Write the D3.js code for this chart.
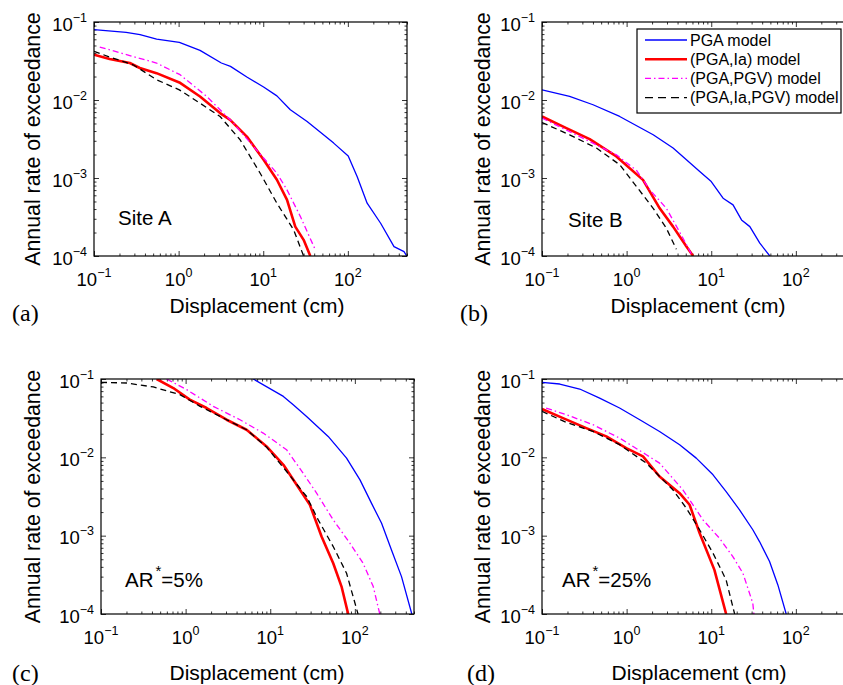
<!DOCTYPE html>
<meta charset="utf-8">
<script src="https://d3js.org/d3.v7.min.js"></script>
<style>
  body { margin: 0; background: #fff; }
  text { font-family: "Liberation Sans", Arial, Helvetica, sans-serif; fill: #000; }
  .serif { font-family: "Liberation Serif", "Times New Roman", serif; }
</style>
<svg id="fig" width="843" height="685"></svg>
<script>

// displacement (cm) vs annual rate of exceedance
const siteA_PGA = [[0.1,0.0797],[0.24,0.0736],[0.35,0.0687],[0.55,0.0605],[1.02,0.0548],[1.79,0.0433],[3.2,0.0298],[4.1,0.027],[6.4,0.0197],[10.1,0.0147],[14.5,0.0113],[20.9,0.0075],[33,0.0053],[47,0.0039],[68,0.0028],[101,0.00192],[129,0.00104],[169,0.000475],[244,0.000263],[351,0.000132],[461,0.000114],[497,0.0001]];
const siteA_Ia = [[0.1,0.0381],[0.153,0.0335],[0.265,0.0298],[0.348,0.0257],[0.548,0.0221],[1.02,0.0168],[1.79,0.0111],[3.09,0.0068],[4.06,0.00557],[6.4,0.0034],[10.1,0.00171],[14.5,0.00095],[19.1,0.000525],[23.9,0.000238],[30,0.000161],[36,0.0001]];
const siteA_PGV = [[0.117,0.0478],[0.242,0.0381],[0.548,0.0298],[1.04,0.0211],[2.15,0.0111],[4.45,0.00505],[7.67,0.00254],[14.5,0.00115],[19.1,0.000705],[27.5,0.00032],[41.4,0.000119]];
const siteA_IaPGV = [[0.1,0.042],[0.153,0.0356],[0.29,0.0283],[0.548,0.0182],[1.02,0.0135],[1.79,0.0091],[3.09,0.00615],[5.33,0.00309],[9.2,0.00115],[14.5,0.000475],[22.9,0.000216],[30,0.0001]];

const siteB_PGA = [[0.1,0.0135],[0.212,0.0111],[0.401,0.00869],[0.828,0.00615],[2.06,0.00358],[3.54,0.00242],[5.09,0.00171],[7.31,0.00121],[10,0.000901],[13.8,0.000551],[18.1,0.000452],[22.8,0.00029],[28.6,0.000238],[37.5,0.000146],[49.2,0.0001]];
const siteB_Ia = [[0.1,0.00615],[0.194,0.00436],[0.366,0.00315],[0.757,0.00189],[1.56,0.000946],[2.46,0.000409],[3.54,0.000238],[5.09,0.000132],[6.11,0.0001]];
const siteB_PGV = [[0.1,0.00586],[0.366,0.00294],[0.757,0.00198],[1.31,0.00125],[1.88,0.000705],[2.95,0.000409],[4.64,0.000169],[5.83,0.000106]];
const siteB_IaPGV = [[0.1,0.00515],[0.212,0.00358],[0.44,0.00242],[0.828,0.00148],[1.31,0.000776],[2.06,0.000409],[2.95,0.000227],[3.87,0.000122]];

const ar5_PGA = [[6.3,0.1],[14.3,0.06],[18.7,0.047],[26.9,0.0333],[48.4,0.0185],[79.8,0.00977],[115,0.00516],[157,0.0026],[207,0.00144],[271,0.000658],[356,0.0003],[471,0.0001]];
const ar5_Ia = [[0.454,0.1],[0.715,0.0767],[1.12,0.0545],[1.77,0.0426],[3.05,0.0302],[5.25,0.0225],[9.05,0.0138],[14.3,0.00803],[20.5,0.00446],[29.4,0.00248],[40.4,0.000975],[55.5,0.000445],[69.6,0.000224],[83.4,0.0001]];
const ar5_PGV = [[0.597,0.1],[1.03,0.0731],[2.12,0.0448],[4.39,0.0302],[8.26,0.0204],[15.6,0.0125],[24.5,0.00628],[35.3,0.00349],[55.5,0.00159],[87.3,0.000801],[125,0.000445],[165,0.000224],[197,0.0001]];
const ar5_IaPGV = [[0.1,0.0906],[0.201,0.0889],[0.415,0.0791],[0.857,0.0631],[1.48,0.0448],[3.05,0.0302],[5.25,0.0225],[9.05,0.0135],[15.6,0.0066],[26.9,0.00316],[36.9,0.00159],[55.5,0.000726],[79.8,0.000331],[109,0.0001]];

const ar25_PGA = [[0.1,0.0906],[0.162,0.0863],[0.279,0.0745],[0.48,0.0571],[0.826,0.0426],[1.43,0.0302],[2.45,0.0214],[4.23,0.0145],[6.65,0.00977],[10.5,0.00598],[15,0.00366],[21.6,0.00214],[31,0.00119],[37.2,0.000841],[48.9,0.000467],[61.3,0.000235],[76.9,0.0001]];
const ar25_Ia = [[0.1,0.0414],[0.177,0.0317],[0.334,0.0236],[0.575,0.0185],[0.991,0.0131],[1.56,0.0103],[2.45,0.0057],[4.23,0.00349],[5.55,0.00248],[7.28,0.00108],[10.9,0.000366],[15,0.0001]];
const ar25_PGV = [[0.112,0.0426],[0.194,0.035],[0.4,0.0261],[0.826,0.0176],[1.71,0.0108],[2.45,0.00843],[4.62,0.00385],[7.98,0.00159],[12.5,0.000929],[18,0.000541],[23.7,0.000331],[31,0.000137],[31.9,0.0001]];
const ar25_IaPGV = [[0.1,0.0386],[0.194,0.0279],[0.4,0.0214],[0.826,0.0145],[1.71,0.00843],[3.52,0.00385],[5.07,0.00225],[7.28,0.00119],[10.5,0.000597],[15,0.000272],[18.9,0.0001]];

const seriesNames = ["PGA model", "(PGA,Ia) model", "(PGA,PGV) model", "(PGA,Ia,PGV) model"];
const xMajor = [0.1, 1, 10, 100];
const yMajor = [1e-1, 1e-2, 1e-3, 1e-4];
const xDomain = [0.1, 500];
const yDomain = [1e-4, 1e-1];

// line looks, same order as seriesNames
const looks = [
  {color: "#0000ff", width: 1.3, dash: null},
  {color: "#ff0000", width: 2.6, dash: null},
  {color: "#ff00ff", width: 1.3, dash: "6,3,1.5,3"},
  {color: "#000000", width: 1.3, dash: "6,4"}
];

const svg = d3.select("#fig");
const W = 313;

const panels = [
  {left: 94, top: 22, h: 234, series: [siteA_PGA, siteA_Ia, siteA_PGV, siteA_IaPGV],
   note: "Site A", noteX: 118, noteY: 225, tag: "(a)", tagX: 12, tagY: 321, ylabX: 33, xlabX: 257, xlabY: 313, legend: false},
  {left: 542, top: 22, h: 234, series: [siteB_PGA, siteB_Ia, siteB_PGV, siteB_IaPGV],
   note: "Site B", noteX: 568, noteY: 227, tag: "(b)", tagX: 460, tagY: 321, ylabX: 483, xlabX: 698, xlabY: 313, legend: true},
  {left: 101, top: 379, h: 235, series: [ar5_PGA, ar5_Ia, ar5_PGV, ar5_IaPGV],
   note: "5%", noteX: 125, noteY: 587, tag: "(c)", tagX: 12, tagY: 681, ylabX: 33, xlabX: 257, xlabY: 680, legend: false},
  {left: 542, top: 379, h: 235, series: [ar25_PGA, ar25_Ia, ar25_PGV, ar25_IaPGV],
   note: "25%", noteX: 562, noteY: 587, tag: "(d)", tagX: 467, tagY: 681, ylabX: 483, xlabX: 699, xlabY: 680, legend: false}
];

function minorTicks(lo, hi) {
  const out = [];
  for (let d = lo; d < hi; d *= 10)
    for (let k = 2; k <= 9; k++) if (d * k <= hi) out.push(d * k);
  return out;
}

panels.forEach(function(p, i) {
  const x = d3.scaleLog().domain(xDomain).range([0, W]);
  const y = d3.scaleLog().domain(yDomain).range([p.h, 0]);
  const g = svg.append("g").attr("transform", `translate(${p.left},${p.top})`);

  g.append("clipPath").attr("id", "clip" + i)
    .append("rect").attr("width", W).attr("height", p.h);

  // inward ticks on all four sides
  const tick = function(axis, vals, size, tr) {
    const a = g.append("g").attr("transform", tr)
      .call(axis.tickValues(vals).tickSizeInner(size).tickSizeOuter(0).tickFormat(""));
    a.select(".domain").remove();
    a.selectAll("line").attr("stroke", "#000").attr("stroke-width", 0.8);
  };
  const xm = minorTicks(0.1, 500), ym = minorTicks(1e-4, 1e-1);
  tick(d3.axisBottom(x), xMajor, -5, `translate(0,${p.h})`);
  tick(d3.axisBottom(x), xm, -2.5, `translate(0,${p.h})`);
  tick(d3.axisTop(x), xMajor, -5, "translate(0,0)");
  tick(d3.axisTop(x), xm, -2.5, "translate(0,0)");
  tick(d3.axisLeft(y), yMajor, -5, "translate(0,0)");
  tick(d3.axisLeft(y), ym, -2.5, "translate(0,0)");
  tick(d3.axisRight(y), yMajor, -5, `translate(${W},0)`);
  tick(d3.axisRight(y), ym, -2.5, `translate(${W},0)`);

  // curves
  const line = d3.line().x(d => x(d[0])).y(d => y(d[1]));
  const curves = g.append("g").attr("clip-path", `url(#clip${i})`);
  p.series.forEach(function(s, k) {
    curves.append("path").datum(s)
      .attr("d", line)
      .attr("fill", "none")
      .attr("stroke", looks[k].color)
      .attr("stroke-width", looks[k].width)
      .attr("stroke-dasharray", looks[k].dash)
      .attr("stroke-linejoin", "round");
  });

  g.append("rect").attr("width", W).attr("height", p.h)
    .attr("fill", "none").attr("stroke", "#000").attr("stroke-width", 1.2);

  // tick labels 10^n
  const yl = g.append("g").selectAll("text").data(yMajor).join("text")
    .attr("x", -7).attr("y", d => y(d) + 8.5)
    .attr("text-anchor", "end").style("font-size", "18.5px");
  yl.append("tspan").text("10");
  yl.append("tspan").attr("dy", -9).style("font-size", "12.5px")
    .text(d => d3.format("d")(Math.log10(d)).replace("-", "\u2212"));

  const xl = g.append("g").selectAll("text").data(xMajor).join("text")
    .attr("x", d => x(d)).attr("y", p.h + 30)
    .attr("text-anchor", "middle").style("font-size", "18.5px");
  xl.append("tspan").text("10");
  xl.append("tspan").attr("dy", -9).style("font-size", "12.5px")
    .text(d => d3.format("d")(Math.round(Math.log10(d))).replace("-", "\u2212"));

  // axis titles
  svg.append("text")
    .attr("transform", `translate(${p.ylabX + 7},${p.top + p.h / 2}) rotate(-90)`)
    .attr("text-anchor", "middle").style("font-size", "21.3px")
    .text("Annual rate of exceedance");
  svg.append("text").attr("x", p.xlabX).attr("y", p.xlabY)
    .attr("text-anchor", "middle").style("font-size", "21px")
    .text("Displacement (cm)");

  svg.append("text").attr("class", "serif")
    .attr("x", p.tagX).attr("y", p.tagY).style("font-size", "24px").text(p.tag);

  // in-plot note
  if (i < 2) {
    svg.append("text").attr("x", p.noteX).attr("y", p.noteY)
      .style("font-size", "20.5px").text(p.note);
  } else {
    const t = svg.append("text").attr("x", p.noteX).attr("y", p.noteY).style("font-size", "20.5px");
    t.append("tspan").text("AR");
    t.append("tspan").attr("dy", -11).attr("dx", 2).style("font-size", "15px").text("*");
    t.append("tspan").attr("dy", 11).text("=" + p.note);
  }

  if (p.legend) {
    const lg = svg.append("g").attr("transform", "translate(637,29)");
    lg.append("rect").attr("width", 204).attr("height", 84)
      .attr("fill", "#fff").attr("stroke", "#000").attr("stroke-width", 1.2);
    seriesNames.forEach(function(name, k) {
      const yy = 11 + k * 19.2;
      lg.append("line").attr("x1", 8).attr("x2", 50).attr("y1", yy).attr("y2", yy)
        .attr("stroke", looks[k].color).attr("stroke-width", looks[k].width)
        .attr("stroke-dasharray", k === 3 ? "8,5" : looks[k].dash);
      lg.append("text").attr("x", 53).attr("y", yy + 5.5)
        .style("font-size", "16px").text(name);
    });
  }
});

</script>
